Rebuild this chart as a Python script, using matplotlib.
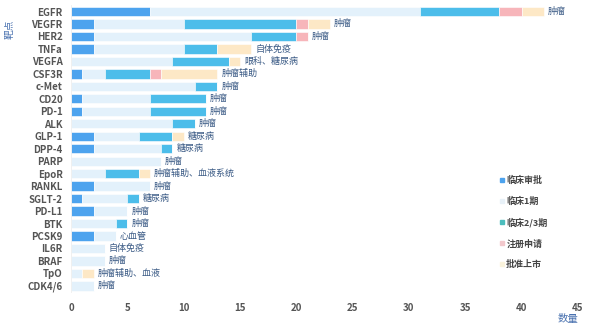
import matplotlib
matplotlib.use("Agg")
import matplotlib.pyplot as plt
from matplotlib.lines import Line2D
import numpy as np

plt.rcParams['font.family'] = ['Noto Sans CJK SC', 'DejaVu Sans']

targets = ["EGFR", "VEGFR", "HER2", "TNFa", "VEGFA", "CSF3R", "c-Met", "CD20", "PD-1",
           "ALK", "GLP-1", "DPP-4", "PARP", "EpoR", "RANKL", "SGLT-2", "PD-L1", "BTK",
           "PCSK9", "IL6R", "BRAF", "TpO", "CDK4/6"]
clinical_approval = [7, 2, 2, 2, 0, 1, 0, 1, 1, 0, 2, 2, 0, 0, 2, 1, 2, 0, 2, 0, 0, 0, 0]
phase1 =            [24, 8, 14, 8, 9, 2, 11, 6, 6, 9, 4, 6, 8, 3, 5, 4, 3, 4, 2, 3, 3, 1, 2]
phase23 =           [7, 10, 4, 3, 5, 4, 2, 5, 5, 2, 3, 1, 0, 3, 0, 1, 0, 1, 0, 0, 0, 0, 0]
registration =      [2, 1, 1, 0, 0, 1, 0, 0, 0, 0, 0, 0, 0, 0, 0, 0, 0, 0, 0, 0, 0, 0, 0]
approved =          [2, 2, 0, 3, 1, 5, 0, 0, 0, 0, 1, 0, 0, 1, 0, 0, 0, 0, 0, 0, 0, 1, 0]
indications = ["肿瘤", "肿瘤", "肿瘤", "自体免疫", "眼科、糖尿病", "肿瘤辅助", "肿瘤", "肿瘤", "肿瘤",
               "肿瘤", "糖尿病", "糖尿病", "肿瘤", "肿瘤辅助、血液系统", "肿瘤", "糖尿病", "肿瘤", "肿瘤",
               "心血管", "自体免疫", "肿瘤", "肿瘤辅助、血液", "肿瘤"]
series_names = ["临床审批", "临床1期", "临床2/3期", "注册申请", "批准上市"]
colors = ["#4DA3EE", "#E3F1FB", "#4CBDEA", "#F7B5BA", "#FDE8C6"]
legend_colors = ["#4DA3EE", "#E8F1F8", "#4CBDBD", "#F2C8CC", "#FAF3DC"]

fig = plt.figure(figsize=(6.14, 3.29), dpi=100)
ax = fig.add_axes([0.1156, 0.112, 0.8257, 0.872])

y = np.arange(len(targets))
series = [clinical_approval, phase1, phase23, registration, approved]
left = np.zeros(len(targets))
for vals, c in zip(series, colors):
    v = np.array(vals, dtype=float)
    ax.barh(y, v, left=left, height=0.75, color=c, edgecolor='white', linewidth=0.4)
    left += v

for yi, tot, lab in zip(y, left, indications):
    ax.text(tot + 0.35, yi, lab, va='center', ha='left', fontsize=6.5, color='#3A5A85')

ax.set_ylim(len(targets) - 0.5, -0.5)
ax.set_xlim(0, 45)
ax.set_yticks(y)
ax.set_yticklabels(targets, fontsize=7, color='#555555', fontweight='bold')
ax.set_xticks(np.arange(0, 46, 5))
ax.set_xticklabels([str(v) for v in range(0, 46, 5)], fontweight='bold')
ax.tick_params(axis='x', labelsize=7, colors='#555555', length=0, pad=8)
ax.tick_params(axis='y', length=0, pad=6)
for s in ['top', 'right', 'bottom']:
    ax.spines[s].set_visible(False)
ax.spines['left'].set_color('#EEEEEE')
ax.spines['left'].set_linewidth(0.6)

fig.text(0.016, 0.91, "靶点", rotation=90, fontsize=7, color='#4A72B0', ha='center', va='center')
fig.text(0.925, 0.03, "数量", fontsize=7.5, color='#4A72B0', ha='center', va='center')

handles = [Line2D([0], [0], marker='s', linestyle='none', markersize=2.5,
                  markerfacecolor=c, markeredgecolor=c) for c in legend_colors]
leg = fig.legend(handles, series_names, loc='upper left', bbox_to_anchor=(0.798, 0.49),
                 frameon=False, fontsize=6.5, handletextpad=0.1, labelspacing=1.3,
                 handlelength=0.8)
for t in leg.get_texts():
    t.set_color('#444444')
    t.set_fontweight('bold')

fig.savefig("out.png", dpi=100)
